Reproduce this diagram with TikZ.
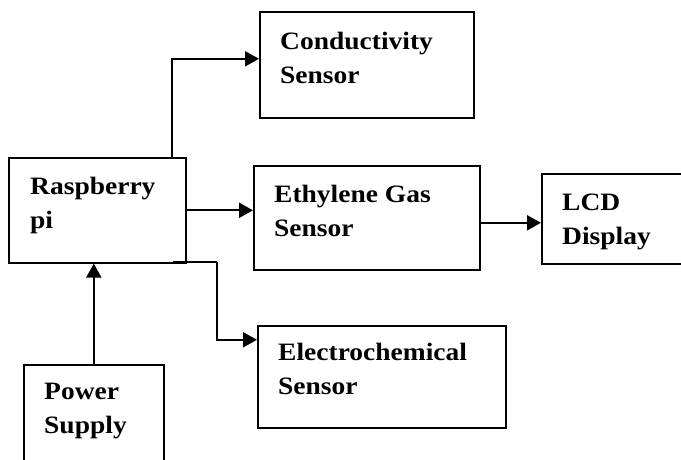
\documentclass[tikz,border=0pt]{standalone}
\usepackage{fontspec}
\setmainfont{Liberation Serif}[FakeStretch=1.1]
\usetikzlibrary{arrows.meta}
\tikzset{
  blk/.style={draw, line width=1.6pt, anchor=north west, inner sep=0pt},
  lbl/.style={anchor=base west, align=left, inner sep=0pt, font=\fontsize{25}{34}\selectfont\bfseries},
  arr/.style={line width=2pt, -{Triangle[length=14pt,width=15pt]}},
  wire/.style={line width=2pt}
}
\begin{document}
\begin{tikzpicture}[x=1pt,y=-1pt]
\useasboundingbox (0,0) rectangle (681,459);
\clip (0,0) rectangle (681,459);
% boxes
\node[blk, minimum width=214pt, minimum height=106pt] (cond) at (259,11) {};
\node[blk, minimum width=177pt, minimum height=105pt] (rpi) at (8,157) {};
\node[blk, minimum width=226pt, minimum height=104pt] (eth) at (253,165) {};
\node[blk, minimum width=170pt, minimum height=90pt] (lcd) at (541,173) {};
\node[blk, minimum width=140pt, minimum height=140pt] (pwr) at (23,364) {};
\node[blk, minimum width=248pt, minimum height=102pt] (ecs) at (257,325) {};
% labels (anchored at the baseline of the last line)
\node[lbl] (tcond) at (280,83) {Conductivity\\Sensor};
\node[lbl] (trpi) at (30,228) {Raspberry\\pi};
\node[lbl] (teth) at (274,236) {Ethylene Gas\\Sensor};
\node[lbl] (tlcd) at (562,244) {LCD\\Display};
\node[lbl] (tpwr) at (44,433) {Power\\Supply};
\node[lbl] (tecs) at (278,394) {Electrochemical\\Sensor};
% connectors
\coordinate (c1) at (172,157);
\draw[arr] (c1) |- ([yshift=6pt]cond.west);
\draw[arr] (rpi.east) -- (rpi.east -| eth.west);
\draw[arr] ([yshift=-5pt]eth.east) -- ([yshift=-5pt]eth.east -| lcd.west);
\draw[arr] (pwr.north) -- (pwr.north |- rpi.south);
\coordinate (e0) at (173,262);
\coordinate (e1) at (217,262);
\draw[wire] (e0) -- (e1);
\draw[arr] (e1) |- ([yshift=37pt]ecs.west);
\end{tikzpicture}
\end{document}
